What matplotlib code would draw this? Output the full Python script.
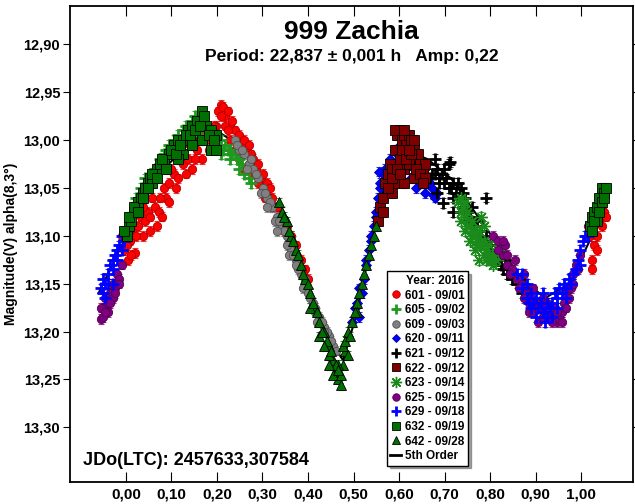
import numpy as np
import matplotlib.pyplot as plt
from matplotlib.lines import Line2D
from matplotlib.ticker import FuncFormatter

plt.rcParams['font.family'] = ['Liberation Sans', 'DejaVu Sans']
plt.rcParams['font.weight'] = 'bold'

title = "999 Zachia"
subtitle = "Period: 22,837 \u00b1 0,001 h   Amp: 0,22"
jd_text = "JDo(LTC): 2457633,307584"
x_ticks = [0.0, 0.1, 0.2, 0.3, 0.4, 0.5, 0.6, 0.7, 0.8, 0.9, 1.0]
y_ticks = [12.90, 12.95, 13.00, 13.05, 13.10, 13.15, 13.20, 13.25, 13.30]

# session 601 - 09/01 (red circles)
s601_ph = [-0.004, 0.004, 0.010, 0.014, 0.020, 0.027, 0.033, 0.038, 0.043, 0.048, 0.053, 0.058,
           0.064, 0.072, 0.079, 0.084, 0.089, 0.094, 0.105, 0.115, 0.125, 0.136, 0.146, 0.156,
           0.167, 0.177, 0.187, 0.198, 0.203, 0.208, 0.213, 0.218, 0.224, 0.229, 0.234, 0.239,
           0.244, 0.249, 0.255, 0.260, 0.265, 0.270, 0.275, 0.280, 0.286, 0.291, 0.296, 0.301,
           0.311, 0.317, 0.322, 0.332, 0.342, 0.353, 0.363, 0.373, 0.384, 0.394, 0.399,
           -0.009, 0.002, 0.012, 0.022, 0.038, 0.053, 0.069, 0.074, 0.094, 0.100, 0.110, 0.120,
           0.131, 0.141, 0.151, 0.162, 0.172, 0.182, 0.193, 0.198, 0.208, 0.218, 0.224, 0.229,
           0.239, 0.249, 0.260, 0.270, 0.280, 0.291, 0.301, 0.306, 0.322, 0.337, 0.348, 0.358,
           0.368, 0.379, 0.389,
           1.014, 1.019, 1.024, 1.024, 1.029, 1.035, 1.040, 1.045, 1.050, 1.055, 1.035]
s601_mag = [13.115, 13.125, 13.105, 13.095, 13.118, 13.09, 13.08, 13.1, 13.085, 13.075, 13.095, 13.06,
            13.07, 13.075, 13.08, 13.05, 13.06, 13.045, 13.035, 13.04, 13.025, 13.02, 13.03, 13.01,
            13.02, 13.0, 12.995, 12.985, 12.97, 12.963, 12.965, 12.975, 12.97, 12.985, 12.98, 12.99,
            13.0, 12.995, 13.005, 13.0, 13.01, 13.005, 13.015, 13.02, 13.03, 13.025, 13.04, 13.035,
            13.045, 13.05, 13.06, 13.07, 13.08, 13.09, 13.1, 13.11, 13.125, 13.135, 13.145,
            13.1, 13.11, 13.12, 13.1, 13.07, 13.08, 13.09, 13.06, 13.065, 13.03, 13.05, 13.02,
            13.035, 13.005, 13.02, 13.0, 12.99, 13.01, 12.985, 13.0, 12.975, 12.985, 12.99, 13.0,
            13.01, 13.02, 13.03, 13.025, 13.035, 13.045, 13.05, 13.06, 13.07, 13.085, 13.095, 13.105,
            13.115, 13.13, 13.14,
            13.09, 13.1, 13.125, 13.135, 13.11, 13.1, 13.085, 13.09, 13.075, 13.08, 13.115]

# session 605 - 09/02 (green plus)
s605_ph = [0.022, 0.033, 0.043, 0.053, 0.064, 0.074, 0.084, 0.094, 0.105, 0.115, 0.125, 0.136,
           0.146, 0.156, 0.167, 0.177, 0.187, 0.198, 0.208, 0.218, 0.229, 0.239, 0.249, 0.260,
           0.270, 0.146, 0.208, 0.229, 0.249, 0.115, 0.038, 0.048, 0.058, 0.079, 0.089, 0.100,
           0.110, 0.120, 0.131, 0.141, 0.151, 0.162, 0.172, 0.182, 0.193, 0.203, 0.213, 0.224,
           0.234, 0.244, 0.255, 0.265, 0.275]
s605_mag = [13.06, 13.05, 13.04, 13.035, 13.03, 13.02, 13.015, 13.005, 13.0, 12.995, 12.99, 12.985,
            12.98, 12.98, 12.985, 12.99, 12.995, 13.0, 13.0, 13.005, 13.01, 13.015, 13.02, 13.035,
            13.04, 12.995, 13.015, 13.02, 13.03, 13.01, 13.055, 13.045, 13.035, 13.025, 13.01, 13.01,
            13.0, 13.0, 12.985, 12.99, 12.975, 12.99, 12.99, 12.995, 13.005, 13.005, 13.01, 13.01,
            13.015, 13.02, 13.025, 13.03, 13.045]

# session 609 - 09/03 (grey circles)
s609_ph = [0.239, 0.249, 0.260, 0.270, 0.280, 0.291, 0.301, 0.311, 0.322, 0.332, 0.342, 0.353,
           0.363, 0.373, 0.384, 0.394, 0.404, 0.415, 0.425, 0.435, 0.446, 0.456, 0.265, 0.296,
           0.327, 0.358, 0.389, 0.420, 0.244, 0.255, 0.275, 0.286, 0.306, 0.317, 0.337, 0.348,
           0.368, 0.379, 0.399, 0.410, 0.430, 0.441, 0.451, 0.461, 0.311, 0.332, 0.353, 0.373,
           0.394, 0.415, 0.435]
s609_mag = [13.0, 13.01, 13.015, 13.025, 13.03, 13.04, 13.05, 13.06, 13.07, 13.08, 13.09, 13.1,
            13.115, 13.125, 13.14, 13.15, 13.165, 13.175, 13.185, 13.195, 13.205, 13.215, 13.03,
            13.055, 13.085, 13.12, 13.155, 13.19,
            13.005, 13.01, 13.02, 13.035, 13.055, 13.065, 13.085, 13.095, 13.12, 13.135, 13.16, 13.17,
            13.19, 13.2, 13.21, 13.22, 13.07, 13.095, 13.11, 13.13, 13.145, 13.18, 13.2]

# session 620 - 09/11 (blue diamonds)
s620_ph = [0.497, 0.508, 0.513, 0.518, 0.523, 0.528, 0.534, 0.539, 0.544, 0.549, 0.554, 0.559,
           0.565, 0.570, 0.580, 0.590, 0.601, 0.611, 0.621, 0.632, 0.642, 0.652, 0.663, 0.673,
           0.637, 0.647, 0.555, 0.606, 0.616, 0.626, 0.657, 0.675, 0.503, 0.513, 0.528, 0.539,
           0.549, 0.559, 0.575, 0.585, 0.596, 0.611, 0.626, 0.642, 0.657, 0.668, 0.678, 0.683]
s620_mag = [13.19, 13.17, 13.185, 13.16, 13.145, 13.13, 13.115, 13.1, 13.09, 13.075, 13.06, 13.045,
            13.035, 13.03, 13.02, 13.01, 13.005, 13.0, 13.005, 13.01, 13.02, 13.03, 13.04, 13.05,
            13.05, 13.045, 13.033, 13.025, 13.03, 13.04, 13.055, 13.057, 13.175, 13.155, 13.125,
            13.105, 13.08, 13.05, 13.035, 13.025, 13.015, 13.01, 13.015, 13.03, 13.035, 13.045,
            13.06, 13.055]

# session 621 - 09/12 (black plus)
s621_ph = [0.652, 0.663, 0.673, 0.678, 0.683, 0.688, 0.694, 0.699, 0.704, 0.709, 0.714, 0.719,
           0.725, 0.730, 0.735, 0.740, 0.745, 0.750, 0.756, 0.761, 0.766, 0.776, 0.787, 0.797,
           0.807, 0.818, 0.828, 0.838, 0.849, 0.859, 0.869, 0.712, 0.697, 0.718, 0.790, 0.683,
           0.668, 0.678, 0.688, 0.699, 0.709, 0.719, 0.730, 0.740, 0.750, 0.761, 0.771, 0.781,
           0.792, 0.802, 0.812, 0.823, 0.833, 0.843, 0.854, 0.864, 0.874, 0.880]
s621_mag = [13.03, 13.025, 13.035, 13.02, 13.03, 13.04, 13.035, 13.045, 13.04, 13.025, 13.05, 13.045,
            13.055, 13.06, 13.05, 13.07, 13.06, 13.075, 13.08, 13.07, 13.09, 13.1, 13.105, 13.11,
            13.12, 13.125, 13.135, 13.14, 13.145, 13.15, 13.16, 13.023, 13.066, 13.075, 13.06, 13.055,
            13.04, 13.035, 13.045, 13.03, 13.05, 13.06, 13.045, 13.055, 13.085, 13.09, 13.085, 13.095,
            13.1, 13.115, 13.125, 13.13, 13.125, 13.135, 13.14, 13.145, 13.15, 13.155]

# session 622 - 09/12 (maroon squares)
s622_ph = [0.554, 0.559, 0.565, 0.570, 0.575, 0.580, 0.585, 0.590, 0.596, 0.601, 0.606, 0.611,
           0.616, 0.621, 0.626, 0.632, 0.637, 0.642, 0.647, 0.652, 0.657, 0.601, 0.611, 0.621,
           0.580, 0.590, 0.632, 0.585, 0.611, 0.565, 0.575, 0.585, 0.596, 0.606, 0.616, 0.626,
           0.637, 0.647, 0.657, 0.590, 0.611, 0.632, 0.652, 0.601, 0.621]
s622_mag = [13.085, 13.07, 13.06, 13.045, 13.035, 13.025, 13.03, 13.01, 12.995, 12.99, 13.0, 12.995,
            13.005, 12.995, 13.0, 13.01, 13.02, 13.015, 13.025, 13.03, 13.025, 13.02, 13.03, 13.025,
            13.05, 13.045, 13.04, 13.055, 13.045, 13.075, 13.05, 13.04, 13.03, 13.01, 13.02, 13.015,
            13.03, 13.035, 13.04, 12.99, 12.99, 13.0, 13.045, 13.035, 13.01]

# session 623 - 09/14 (green stars)
s623_ph = [0.735, 0.740, 0.745, 0.750, 0.756, 0.761, 0.766, 0.771, 0.776, 0.781, 0.787, 0.792,
           0.797, 0.802, 0.807, 0.766, 0.776, 0.756, 0.745, 0.735, 0.730, 0.787, 0.781, 0.818,
           0.735, 0.745, 0.750, 0.761, 0.771, 0.776, 0.787, 0.792, 0.797, 0.807, 0.812, 0.823,
           0.828]
s623_mag = [13.06, 13.07, 13.08, 13.075, 13.09, 13.085, 13.1, 13.095, 13.11, 13.105, 13.12, 13.115,
            13.12, 13.125, 13.13, 13.115, 13.125, 13.105, 13.095, 13.075, 13.065, 13.09, 13.08, 13.115,
            13.085, 13.065, 13.09, 13.1, 13.11, 13.095, 13.105, 13.125, 13.11, 13.12, 13.125, 13.11,
            13.12]

# session 625 - 09/15 (purple circles)
s625_ph = [-0.055, -0.050, -0.045, -0.040, -0.035, -0.029, -0.024, -0.019, -0.014, -0.009,
           -0.040, -0.029, -0.055, -0.050, -0.045, -0.035, -0.024, -0.014,
           0.807, 0.818, 0.828, 0.833, 0.838, 0.849, 0.854, 0.859, 0.869, 0.874, 0.880, 0.890,
           0.895, 0.900, 0.911, 0.916, 0.921, 0.931, 0.942, 0.952, 0.957, 0.962, 0.967, 0.973,
           0.978, 0.983, 0.988, 0.993, 0.885, 0.905, 0.926, 0.947, 0.818, 0.828, 0.838, 0.843,
           0.864, 0.874, 0.885, 0.895, 0.905, 0.916, 0.926, 0.936, 0.947, 0.957, 0.967, 0.978,
           0.983, 0.998]
s625_mag = [13.187, 13.175, 13.165, 13.17, 13.16, 13.15, 13.155, 13.14, 13.145, 13.13,
            13.18, 13.165, 13.175, 13.185, 13.18, 13.17, 13.16, 13.15,
            13.1, 13.105, 13.12, 13.11, 13.13, 13.135, 13.125, 13.145, 13.15, 13.14, 13.16, 13.165,
            13.155, 13.17, 13.175, 13.165, 13.18, 13.185, 13.175, 13.185, 13.18, 13.17, 13.16, 13.165,
            13.15, 13.14, 13.13, 13.135, 13.18, 13.19, 13.17, 13.19, 13.115, 13.105, 13.12, 13.14,
            13.155, 13.165, 13.17, 13.18, 13.175, 13.185, 13.18, 13.19, 13.18, 13.19, 13.175, 13.155,
            13.15, 13.12]

# session 629 - 09/18 (blue plus)
s629_ph = [-0.055, -0.050, -0.045, -0.040, -0.035, -0.029, -0.024, -0.019, -0.014, -0.009,
           -0.004, 0.002, -0.045, -0.029, -0.050, -0.040, -0.029, -0.019, -0.009,
           0.859, 0.869, 0.880, 0.890, 0.895, 0.900, 0.911, 0.921, 0.926, 0.931, 0.936, 0.942,
           0.952, 0.962, 0.973, 0.983, 0.993, 0.998, 1.004, 1.009, 0.900, 0.916, 0.947, 0.967,
           0.885, 0.921, 0.869, 0.880, 0.890, 0.905, 0.916, 0.926, 0.936, 0.947, 0.957, 0.967,
           0.978, 0.988, 0.998, 1.014, 1.019]
s629_mag = [13.155, 13.145, 13.15, 13.14, 13.13, 13.135, 13.12, 13.115, 13.11, 13.1,
            13.105, 13.095, 13.165, 13.15, 13.16, 13.15, 13.125, 13.125, 13.115,
            13.14, 13.155, 13.15, 13.16, 13.17, 13.165, 13.17, 13.18, 13.185, 13.175, 13.17, 13.16,
            13.155, 13.15, 13.145, 13.14, 13.125, 13.115, 13.105, 13.1, 13.185, 13.16, 13.175, 13.165,
            13.17, 13.19, 13.14, 13.165, 13.175, 13.175, 13.18, 13.17, 13.185, 13.165, 13.16, 13.155,
            13.15, 13.135, 13.13, 13.1, 13.09]

# session 632 - 09/19 (green squares)
s632_ph = [0.002, 0.007, 0.012, 0.017, 0.022, 0.027, 0.033, 0.038, 0.043, 0.048, 0.053, 0.058,
           0.064, 0.069, 0.074, 0.084, 0.094, 0.105, 0.115, 0.125, 0.136, 0.146, 0.156, 0.167,
           0.172, 0.177, 0.187, 0.198, 0.125, 0.146, 0.167, 0.187, 0.198, 0.115, -0.004, 0.007,
           0.017, 0.027, 0.038, 0.048, 0.058, 0.069, 0.079, 0.089, 0.100, 0.110, 0.120, 0.131,
           0.141, 0.151, 0.162, 0.182, 0.193,
           1.019, 1.024, 1.029, 1.035, 1.040, 1.045, 1.050, 1.045, 1.035, 1.024, 1.029, 1.040,
           1.050, 1.055]
s632_mag = [13.1, 13.09, 13.085, 13.075, 13.07, 13.065, 13.06, 13.055, 13.05, 13.045, 13.04, 13.045,
            13.035, 13.03, 13.025, 13.02, 13.015, 13.005, 13.0, 13.0, 12.99, 12.985, 12.98, 12.97,
            12.975, 12.985, 12.99, 12.995, 13.015, 13.005, 13.0, 13.01, 13.01, 13.02, 13.095, 13.08,
            13.07, 13.075, 13.06, 13.05, 13.035, 13.04, 13.02, 13.03, 13.01, 13.015, 13.005, 12.995,
            12.995, 12.99, 12.985, 12.995, 13.0,
            13.09, 13.08, 13.075, 13.07, 13.06, 13.05, 13.055, 13.065, 13.085, 13.095, 13.085, 13.075,
            13.06, 13.05]

# session 642 - 09/28 (green triangles)
s642_ph = [0.337, 0.342, 0.353, 0.363, 0.373, 0.384, 0.394, 0.404, 0.415, 0.425, 0.435, 0.446,
           0.456, 0.461, 0.466, 0.472, 0.477, 0.482, 0.487, 0.497, 0.508, 0.518, 0.528, 0.539,
           0.549, 0.404, 0.425, 0.446, 0.456, 0.466, 0.477, 0.508, 0.523, 0.348, 0.358, 0.368,
           0.379, 0.389, 0.399, 0.410, 0.420, 0.430, 0.441, 0.451, 0.461, 0.472, 0.482, 0.492,
           0.503, 0.513, 0.534, 0.544, 0.435, 0.446, 0.466, 0.487]
s642_mag = [13.065, 13.075, 13.085, 13.1, 13.115, 13.13, 13.145, 13.16, 13.175, 13.19, 13.2, 13.215,
            13.23, 13.24, 13.25, 13.256, 13.235, 13.22, 13.2, 13.19, 13.17, 13.15, 13.13, 13.11,
            13.09, 13.175, 13.205, 13.225, 13.245, 13.235, 13.215, 13.18, 13.14, 13.08, 13.095,
            13.105, 13.12, 13.14, 13.15, 13.17, 13.18, 13.2, 13.21, 13.22, 13.235, 13.245, 13.21,
            13.205, 13.18, 13.16, 13.12, 13.1, 13.215, 13.235, 13.24, 13.225]

# 5th order fit
fit_ph = [-0.060, -0.009, 0.043, 0.094, 0.146, 0.198, 0.249, 0.301, 0.353, 0.404, 0.456, 0.477,
          0.508, 0.559, 0.611, 0.663, 0.714, 0.766, 0.818, 0.869, 0.921, 0.973, 1.024, 1.055]
fit_mag = [13.16, 13.11, 13.06, 13.025, 13.0, 12.99, 13.005, 13.04, 13.09, 13.155, 13.215, 13.23,
           13.18, 13.06, 13.01, 13.02, 13.04, 13.075, 13.11, 13.145, 13.165, 13.15, 13.1, 13.07]

sessions = [
    ("601 - 09/01", s601_ph, s601_mag, 'o', '#ff0000', '#b00000', 6.0),
    ("605 - 09/02", s605_ph, s605_mag, '+', '#1f9a1f', '#1f9a1f', 8.0),
    ("609 - 09/03", s609_ph, s609_mag, 'o', '#808080', '#505050', 6.0),
    ("620 - 09/11", s620_ph, s620_mag, 'D', '#0000ff', '#0000b0', 5.0),
    ("621 - 09/12", s621_ph, s621_mag, '+', '#000000', '#000000', 8.0),
    ("622 - 09/12", s622_ph, s622_mag, 's', '#800000', '#000000', 7.0),
    ("623 - 09/14", s623_ph, s623_mag, (8, 2, 0), '#1a8a1a', '#1a8a1a', 9.0),
    ("625 - 09/15", s625_ph, s625_mag, 'o', '#800080', '#500050', 6.0),
    ("629 - 09/18", s629_ph, s629_mag, '+', '#0000ff', '#0000ff', 8.0),
    ("632 - 09/19", s632_ph, s632_mag, 's', '#007000', '#000000', 7.0),
    ("642 - 09/28", s642_ph, s642_mag, '^', '#007000', '#000000', 6.5),
]

fig = plt.figure(figsize=(6.35, 5.04), dpi=100)
ax = fig.add_axes([0.110, 0.044, 0.887, 0.944])

ax.plot(fit_ph, fit_mag, color='black', lw=1.5, zorder=1)

handles = []
for lab, ph, mg, mk, col, ec, ms in sessions:
    thick = 2.0 if mk == '+' else (1.0 if isinstance(mk, tuple) else 0.6)
    ax.errorbar(ph, mg, yerr=0.005, fmt='none', ecolor=col, elinewidth=0.8,
                capsize=2.5, capthick=0.8, alpha=0.8, zorder=2)
    ax.plot(ph, mg, ls='none', marker=mk, ms=ms, mfc=col, mec=ec, mew=thick, zorder=3)
    handles.append(Line2D([], [], ls='none', marker=mk, ms=ms * 0.9, mfc=col, mec=ec,
                          mew=thick, label=lab))
handles.append(Line2D([], [], color='black', lw=2, label='5th Order'))

ax.set_xlim(-0.123, 1.114)
ax.set_ylim(13.357, 12.86)
ax.set_xticks(x_ticks)
ax.set_yticks(y_ticks)
fmt = FuncFormatter(lambda v, p: f"{v:.2f}".replace('.', ','))
ax.xaxis.set_major_formatter(fmt)
ax.yaxis.set_major_formatter(fmt)
ax.tick_params(axis='x', direction='in', length=7, top=True, labelsize=11, pad=4)
ax.tick_params(axis='y', direction='out', length=5, right=True, labelsize=10.5, pad=2)
for lbl in ax.get_xticklabels() + ax.get_yticklabels():
    lbl.set_fontweight('bold')
for s in ax.spines.values():
    s.set_linewidth(1.3)

ax.set_ylabel("Magnitude(V) alpha(8,3\u00b0)", fontsize=10, fontweight='bold', labelpad=4)

ax.text(0.5, 0.945, title, transform=ax.transAxes, ha='center', va='center',
        fontsize=19, fontweight='bold')
ax.text(0.5, 0.893, subtitle, transform=ax.transAxes, ha='center', va='center',
        fontsize=12.5, fontweight='bold')
ax.text(0.024, 0.045, jd_text, transform=ax.transAxes, ha='left', va='center',
        fontsize=13, fontweight='bold')

leg = ax.legend(handles=handles, title="Year: 2016", loc='lower left',
                bbox_to_anchor=(0.563, 0.034), fontsize=8.5, title_fontsize=8.5,
                frameon=True, fancybox=False, shadow=True, handlelength=0.9,
                handletextpad=0.3, borderpad=0.3, labelspacing=0.22, borderaxespad=0)
leg.get_frame().set_edgecolor('black')
leg.get_frame().set_linewidth(1.0)
leg._legend_box.align = 'right'
leg.get_title().set_fontweight('bold')
for t in leg.get_texts():
    t.set_fontweight('bold')

fig.savefig('out.png', dpi=100)
